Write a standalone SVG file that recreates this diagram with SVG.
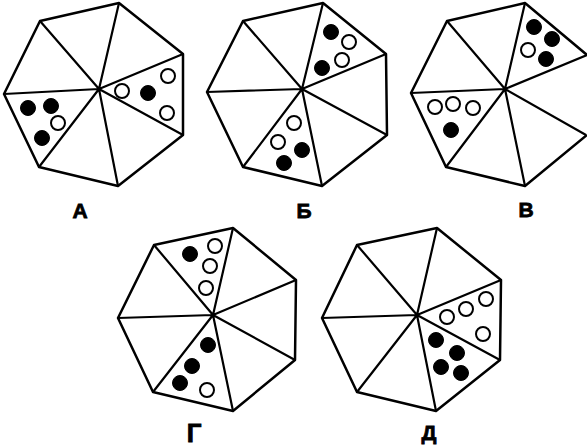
<svg xmlns="http://www.w3.org/2000/svg" width="587" height="447" viewBox="0 0 587 447">
<style>
.hep{fill:#fff;stroke:#000;stroke-width:2.5;stroke-linejoin:round}
.sp{stroke:#000;stroke-width:2.2;fill:none}
.o{fill:#fff;stroke:#000;stroke-width:2}
.f{fill:#000;stroke:#000;stroke-width:1}
.lbl{font-family:"Liberation Sans",Arial,sans-serif;font-weight:bold;font-size:21px;text-anchor:middle;stroke:#000;stroke-width:0.8}
</style>
<rect width="587" height="447" fill="#fff"/>
<g id="A">
<polygon class="hep" points="119,3 183,54 183,135 118,186 39,167 4,94 40,21"/>
<path class="sp" d="M99,89L119,3M99,89L183,54M99,89L183,135M99,89L118,186M99,89L39,167M99,89L4,94M99,89L40,21"/>
<circle class="o" cx="122" cy="91" r="7"/><circle class="f" cx="148" cy="93" r="7.5"/><circle class="o" cx="168" cy="76" r="7"/><circle class="o" cx="167" cy="113" r="7"/>
<circle class="f" cx="28" cy="108" r="7.5"/><circle class="f" cx="51" cy="106" r="7.5"/><circle class="o" cx="58" cy="123" r="7"/><circle class="f" cx="42" cy="138" r="7.5"/>
<text class="lbl" x="80" y="218">А</text>
</g>
<g id="B">
<polygon class="hep" points="323,3 386,54 387,135 322,186 243,167 207,92 243,21"/>
<path class="sp" d="M302,89L323,3M302,89L386,54M302,89L387,135M302,89L322,186M302,89L243,167M302,89L207,92M302,89L243,21"/>
<circle class="f" cx="331" cy="32" r="7.5"/><circle class="o" cx="349" cy="42" r="7"/><circle class="o" cx="342" cy="60" r="7"/><circle class="f" cx="322" cy="68" r="7.5"/>
<circle class="o" cx="294" cy="123" r="7"/><circle class="o" cx="278" cy="142" r="7"/><circle class="f" cx="302" cy="150" r="7.5"/><circle class="f" cx="284" cy="163" r="7.5"/>
<text class="lbl" x="304" y="218">Б</text>
</g>
<g id="V">
<path class="hep" d="M587,135L525,186L446,167L411,93L447,21L525,3L587,55"/>
<path class="sp" d="M505,89L525,3M505,89L587,55M505,89L586,135M505,89L525,186M505,89L446,167M505,89L411,93M505,89L447,21"/>
<circle class="f" cx="534" cy="27" r="7.5"/><circle class="f" cx="552" cy="39" r="7.5"/><circle class="o" cx="528" cy="50" r="7"/><circle class="f" cx="546" cy="59" r="7.5"/>
<circle class="o" cx="435" cy="107" r="7"/><circle class="o" cx="453" cy="104" r="7"/><circle class="o" cx="473" cy="108" r="7"/><circle class="f" cx="451" cy="130" r="7.5"/>
<text class="lbl" x="526" y="217">В</text>
</g>
<g id="G">
<polygon class="hep" points="233,228 296,280 295,360 233,411 153,392 118,318 154,245"/>
<path class="sp" d="M213,315L233,228M213,315L296,280M213,315L295,360M213,315L233,411M213,315L153,392M213,315L118,318M213,315L154,245"/>
<circle class="f" cx="190" cy="254" r="7.5"/><circle class="o" cx="215" cy="246" r="7"/><circle class="o" cx="210" cy="266" r="7"/><circle class="o" cx="206" cy="288" r="7"/>
<circle class="f" cx="208" cy="345" r="7.5"/><circle class="f" cx="192" cy="366" r="7.5"/><circle class="f" cx="180" cy="383" r="7.5"/><circle class="o" cx="207" cy="390" r="7"/>
<text class="lbl" x="194" y="442" style="font-size:26px">Г</text>
</g>
<g id="D">
<polygon class="hep" points="437,228 501,280 500,360 436,411 357,392 322,318 357,245"/>
<path class="sp" d="M417,315L437,228M417,315L501,280M417,315L500,360M417,315L436,411M417,315L357,392M417,315L322,318M417,315L357,245"/>
<circle class="o" cx="447" cy="317" r="7"/><circle class="o" cx="466" cy="309" r="7"/><circle class="o" cx="486" cy="299" r="7"/><circle class="o" cx="483" cy="334" r="7"/>
<circle class="f" cx="436" cy="340" r="7.5"/><circle class="f" cx="457" cy="353" r="7.5"/><circle class="f" cx="441" cy="367" r="7.5"/><circle class="f" cx="461" cy="373" r="7.5"/>
<text class="lbl" x="429" y="440">Д</text>
</g>
<g id="connectors"></g>
</svg>
